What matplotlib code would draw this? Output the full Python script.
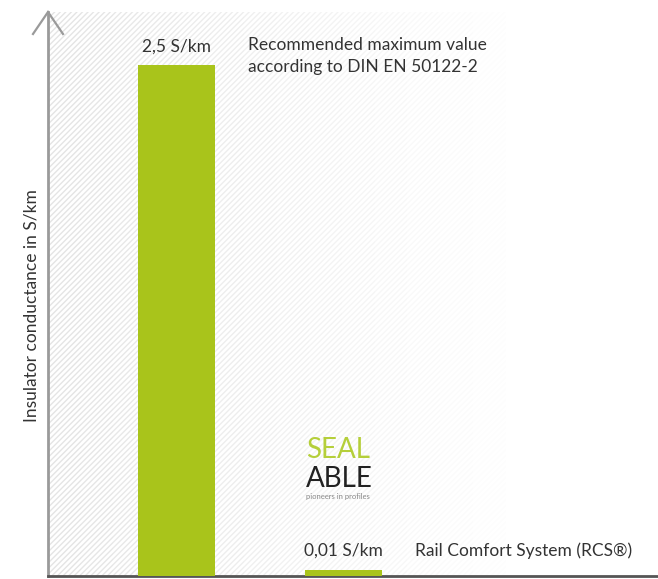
import matplotlib.pyplot as plt
from matplotlib.patches import Rectangle
import numpy as np

# data
categories = ["DIN EN 50122-2", "RCS"]
values = [2.5, 0.01]
value_labels = ["2,5 S/km", "0,01 S/km"]
descriptions = ["Recommended maximum value\naccording to DIN EN 50122-2",
                "Rail Comfort System (RCS\u00ae)"]
ylabel = "Insulator conductance in S/km"

green = "#a9c41b"
text_col = "#333333"
axis_col = "#9a9a9a"

plt.rcParams['font.family'] = ['Lato', 'DejaVu Sans']

fig = plt.figure(figsize=(6.58, 5.79), dpi=100)
ax = fig.add_axes([48 / 658, 3 / 579, 610 / 658, 564 / 579])

# power scale so the tiny value stays visible
p = 0.8
ax.set_yscale('function', functions=(lambda y: np.sign(y) * np.abs(y) ** p,
                                     lambda y: np.sign(y) * np.abs(y) ** (1 / p)))

x = np.arange(len(values))
bars = ax.bar(x, values, width=0.46, color=green, zorder=3)
ax.set_xlim(-0.769, 2.883)
ax.set_ylim(0, 2.83)

# faint hatched background, fading to the right
n = 14
edges = np.linspace(0, 0.75, n + 1)
for i in range(n):
    a = 0.45 * (1 - i / n)
    ax.add_patch(Rectangle((edges[i], 0), edges[i + 1] - edges[i], 1, transform=ax.transAxes,
                           fill=False, hatch='//////', edgecolor='#c4c4c4', linewidth=0,
                           alpha=a, zorder=1))

for sp in ['top', 'right']:
    ax.spines[sp].set_visible(False)
ax.spines['left'].set_color(axis_col)
ax.spines['left'].set_linewidth(2)
ax.spines['bottom'].set_color('#555555')
ax.spines['bottom'].set_linewidth(2)
ax.set_xticks([])
ax.set_yticks([])
ax.minorticks_off()

# open arrow head on the y axis
ax.plot([-0.0246, 0, 0.0246], [0.961, 1.0, 0.961], color=axis_col, lw=1.6,
        transform=ax.transAxes, clip_on=False, zorder=4, solid_joinstyle='miter')

ax.set_ylabel(ylabel, fontsize=12.5, color=text_col)
ax.yaxis.set_label_coords(-0.014, 0.479)

for b, lab, desc in zip(bars, value_labels, descriptions):
    cx = b.get_x() + b.get_width() / 2
    h = b.get_height()
    ax.annotate(lab, (cx, h), xytext=(0, 13.5), textcoords='offset points',
                ha='center', va='center', fontsize=12.5, color=text_col)
    ax.annotate(desc, (b.get_x() + b.get_width(), h), xytext=(24, 20),
                textcoords='offset points', ha='left', va='top',
                fontsize=12.5, color=text_col, linespacing=1.45)

# logo
fig.text(306 / 658, 1 - 458 / 579, "SEAL", color='#b5cf3a', fontsize=20, ha='left', va='baseline')
fig.text(306 / 658, 1 - 487 / 579, "ABLE", color='#222222', fontsize=20, ha='left', va='baseline')
fig.text(306 / 658, 1 - 499 / 579, "pioneers in profiles", color='#888888', fontsize=5.5,
         ha='left', va='baseline')

fig.savefig("out.png", dpi=100)
